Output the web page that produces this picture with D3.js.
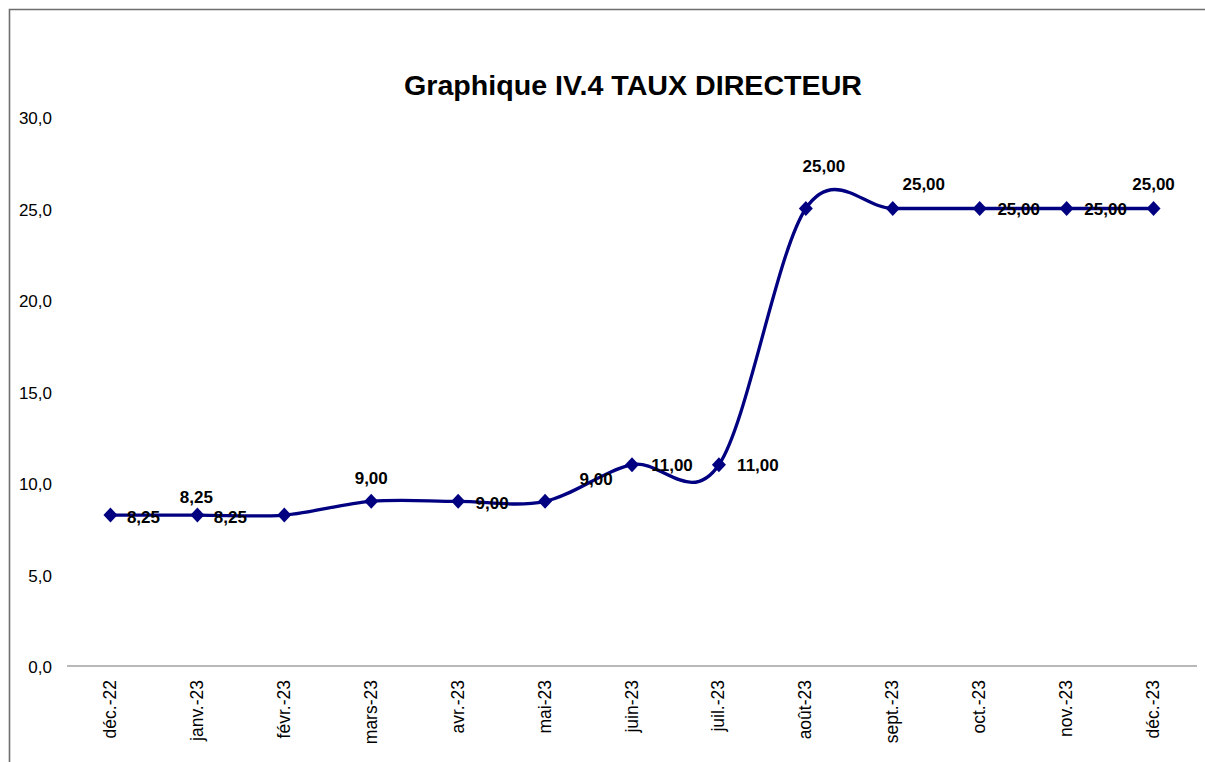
<!DOCTYPE html>
<html>
<head>
<meta charset="utf-8">
<script src="https://cdn.jsdelivr.net/npm/d3@7"></script>
<style>
	body { margin: 0; background: #fff; }
	text { font-family: 'Liberation Sans', Arial, sans-serif; }
</style>
</head>
<body>
<div id="chart"></div>
<script>
const months = ['déc.-22', 'janv.-23', 'févr.-23', 'mars-23', 'avr.-23', 'mai-23', 'juin-23',
				'juil.-23', 'août-23', 'sept.-23', 'oct.-23', 'nov.-23', 'déc.-23'];
const rates = [8.25, 8.25, 8.25, 9.00, 9.00, 9.00, 11.00, 11.00, 25.00, 25.00, 25.00, 25.00, 25.00];
const yTicks = [0, 5, 10, 15, 20, 25, 30];

// data labels as Excel placed them: which point, and the offset of the label centre
const labelIdx     = [0, 1, 1, 3, 4, 5, 6, 7, 8, 9, 10, 11, 12];
const labelOffsets = [[33, 2], [-1, -18], [33, 2], [0, -23], [34, 2], [51, -22], [40, 1],
					  [39, 1], [18, -42], [31, -24], [39, 1], [39, 1], [0, -24]];

const width  = 1205;
const height = 762;
const navy   = '#000080';

const svg = d3.select( '#chart' )
			  .append( 'svg' )
			  .attr( 'width', width )
			  .attr( 'height', height );

// chart frame (only top and left edges are visible)
svg.append( 'path' )
   .attr( 'd', `M9.5,${height} V9.5 H${width}` )
   .attr( 'fill', 'none' )
   .attr( 'stroke', '#6e6e6e' )
   .attr( 'stroke-width', 1.6 );

svg.append( 'text' )
   .attr( 'x', 633 )
   .attr( 'y', 85 )
   .attr( 'text-anchor', 'middle' )
   .attr( 'dominant-baseline', 'central' )
   .attr( 'font-size', '27.5px' )
   .attr( 'font-weight', 'bold' )
   .attr( 'textLength', 458 )
   .attr( 'lengthAdjust', 'spacingAndGlyphs' )
   .text( 'Graphique IV.4 TAUX DIRECTEUR' );

const x = d3.scalePoint()
			.domain( months )
			.range( [67, 1197] )
			.padding( 0.5 );

const y = d3.scaleLinear()
			.domain( [0, 30] )
			.range( [666, 117] );

// y axis : labels only
const yAxis = svg.append( 'g' )
				 .attr( 'transform', 'translate(52,0)' )
				 .call( d3.axisLeft( y ).tickValues( yTicks ).tickSize( 0 ).tickPadding( 0 )
						  .tickFormat( d => d3.format( '.1f' )( d ).replace( '.', ',' ) ) );
yAxis.select( '.domain' ).remove();
yAxis.selectAll( 'text' )
	 .attr( 'font-size', '17px' )
	 .attr( 'fill', '#000' )
	 .attr( 'dy', '0.4em' );

// x axis
const xAxis = svg.append( 'g' )
				 .attr( 'transform', `translate(0,${y( 0 )})` )
				 .call( d3.axisBottom( x ).tickSize( 0 ).tickPadding( 0 ) );
xAxis.select( '.domain' )
	 .attr( 'd', 'M67,0 H1197' )
	 .attr( 'stroke', '#a0a0a0' )
	 .attr( 'stroke-width', 1.6 );
xAxis.selectAll( 'text' )
	 .attr( 'font-size', '17.5px' )
	 .attr( 'fill', '#000' )
	 .attr( 'text-anchor', 'end' )
	 .attr( 'dominant-baseline', 'central' )
	 .attr( 'dy', null )
	 .attr( 'y', 0 )
	 .attr( 'transform', 'translate(-1,14) rotate(-90)' );

const points = months.map( ( m, i ) => [x( m ), y( rates[i] )] );

svg.append( 'path' )
   .datum( points )
   .attr( 'd', d3.line().curve( d3.curveCardinal.tension( 0 ) ) )
   .attr( 'fill', 'none' )
   .attr( 'stroke', navy )
   .attr( 'stroke-width', 3.3 );

svg.append( 'g' )
   .selectAll( 'path' )
   .data( points )
   .enter()
   .append( 'path' )
   .attr( 'transform', d => `translate(${d[0]},${d[1]})` )
   .attr( 'd', 'M0,-7.5 L7,0 L0,7.5 L-7,0 Z' )
   .attr( 'fill', navy );

svg.append( 'g' )
   .selectAll( 'text' )
   .data( labelIdx )
   .enter()
   .append( 'text' )
   .attr( 'x', ( d, i ) => points[d][0] + labelOffsets[i][0] )
   .attr( 'y', ( d, i ) => points[d][1] + labelOffsets[i][1] )
   .attr( 'text-anchor', 'middle' )
   .attr( 'dominant-baseline', 'central' )
   .attr( 'font-size', '17px' )
   .attr( 'font-weight', 'bold' )
   .text( d => d3.format( '.2f' )( rates[d] ).replace( '.', ',' ) );
</script>
</body>
</html>
